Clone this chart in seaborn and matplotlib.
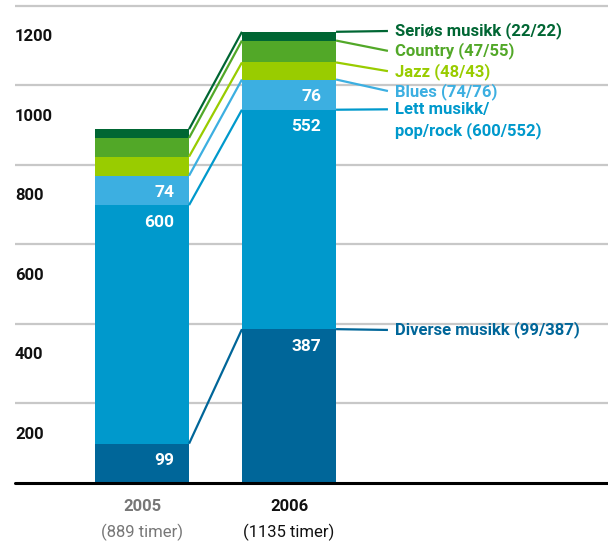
import matplotlib
matplotlib.use("Agg")
import matplotlib.pyplot as plt
import matplotlib.transforms as mtransforms
import seaborn as sns
import pandas as pd
import numpy as np

# data (bottom segment first)
years = ["2005", "2006"]
year_notes = ["(889 timer)", "(1135 timer)"]
categories = ["Diverse musikk", "Lett musikk/\npop/rock", "Blues", "Jazz", "Country", "Seriøs musikk"]
values_2005 = [99, 600, 74, 48, 47, 22]
values_2006 = [387, 552, 76, 43, 55, 22]
labelled = ["Diverse musikk", "Lett musikk/\npop/rock", "Blues"]
y_ticks = [200, 400, 600, 800, 1000, 1200]

colors = ["#006699", "#0099cc", "#3cafe1", "#99cc00", "#52a828", "#006633"]
# where the right-hand labels sit (data units)
label_y = [385, 940, 986, 1036, 1087, 1137]

sns.set_style("white")
plt.rcParams["font.family"] = ["Roboto", "DejaVu Sans"]

fig = plt.figure(figsize=(6.08, 5.42), dpi=100)
ax = fig.add_axes([15 / 608, 59 / 542, 593 / 608, 483 / 542])

bar_w = 0.64
x_left, x_right = -0.864, 3.17

cum05 = np.cumsum(values_2005)
cum06 = np.cumsum(values_2006)

# gridlines behind everything
ax.hlines(y_ticks, x_left, x_right, color="#c8c8c8", lw=1.6, zorder=0)

# stacked bars: draw cumulative totals from the top segment down
for i in reversed(range(len(categories))):
    df = pd.DataFrame({"year": years, "total": [cum05[i], cum06[i]]})
    sns.barplot(data=df, x="year", y="total", color=colors[i], width=bar_w,
                saturation=1, edgecolor="none", linewidth=0, ax=ax, zorder=2)

# connector lines between the bars and out to the labels
line_end = 1.673
line_gap = 53  # data units between the two lines of a wrapped label
for i, cat in enumerate(categories):
    ax.plot([bar_w / 2, 1 - bar_w / 2], [cum05[i], cum06[i]],
            color=colors[i], lw=1.6, solid_capstyle="butt", zorder=3)
    ax.plot([1 + bar_w / 2, line_end], [cum06[i], label_y[i]],
            color=colors[i], lw=1.6, solid_capstyle="butt", zorder=3)
    name = cat + f" ({values_2005[i]}/{values_2006[i]})"
    for k, part in enumerate(name.split("\n")):
        ax.text(line_end + 0.045, label_y[i] - k * line_gap, part, color=colors[i],
                fontsize=12, fontweight="bold", va="center", ha="left", zorder=4)

# values inside the bars
for i, cat in enumerate(categories):
    if cat not in labelled:
        continue
    for j, cum, vals in [(0, cum05, values_2005), (1, cum06, values_2006)]:
        ax.text(j + bar_w / 2 - 0.1, cum[i] - 43, str(vals[i]), color="white",
                fontsize=12.5, fontweight="bold", ha="right", va="center", zorder=4)

# baseline
ax.axhline(0, color="black", lw=2.2, clip_on=False, zorder=5)

# y labels sit just below their gridlines
trans = mtransforms.blended_transform_factory(ax.transAxes, ax.transData)
for v in y_ticks:
    ax.text(0, v - 77, str(v), transform=trans, fontsize=12, fontweight="bold",
            color="#111111", ha="left", va="center")

# x labels
for j, (yr, note) in enumerate(zip(years, year_notes)):
    c = "#777777" if j == 0 else "#111111"
    ax.text(j, -60, yr, color=c, fontsize=12, fontweight="bold", ha="center", va="center")
    ax.text(j, -123, note, color=c, fontsize=12, ha="center", va="center")

ax.set_xlim(x_left, x_right)
ax.set_ylim(0, 1215)
ax.set_xticks([])
ax.set_yticks([])
ax.set_xlabel("")
ax.set_ylabel("")
sns.despine(ax=ax, left=True, bottom=True)

fig.savefig("out.png", dpi=100)
